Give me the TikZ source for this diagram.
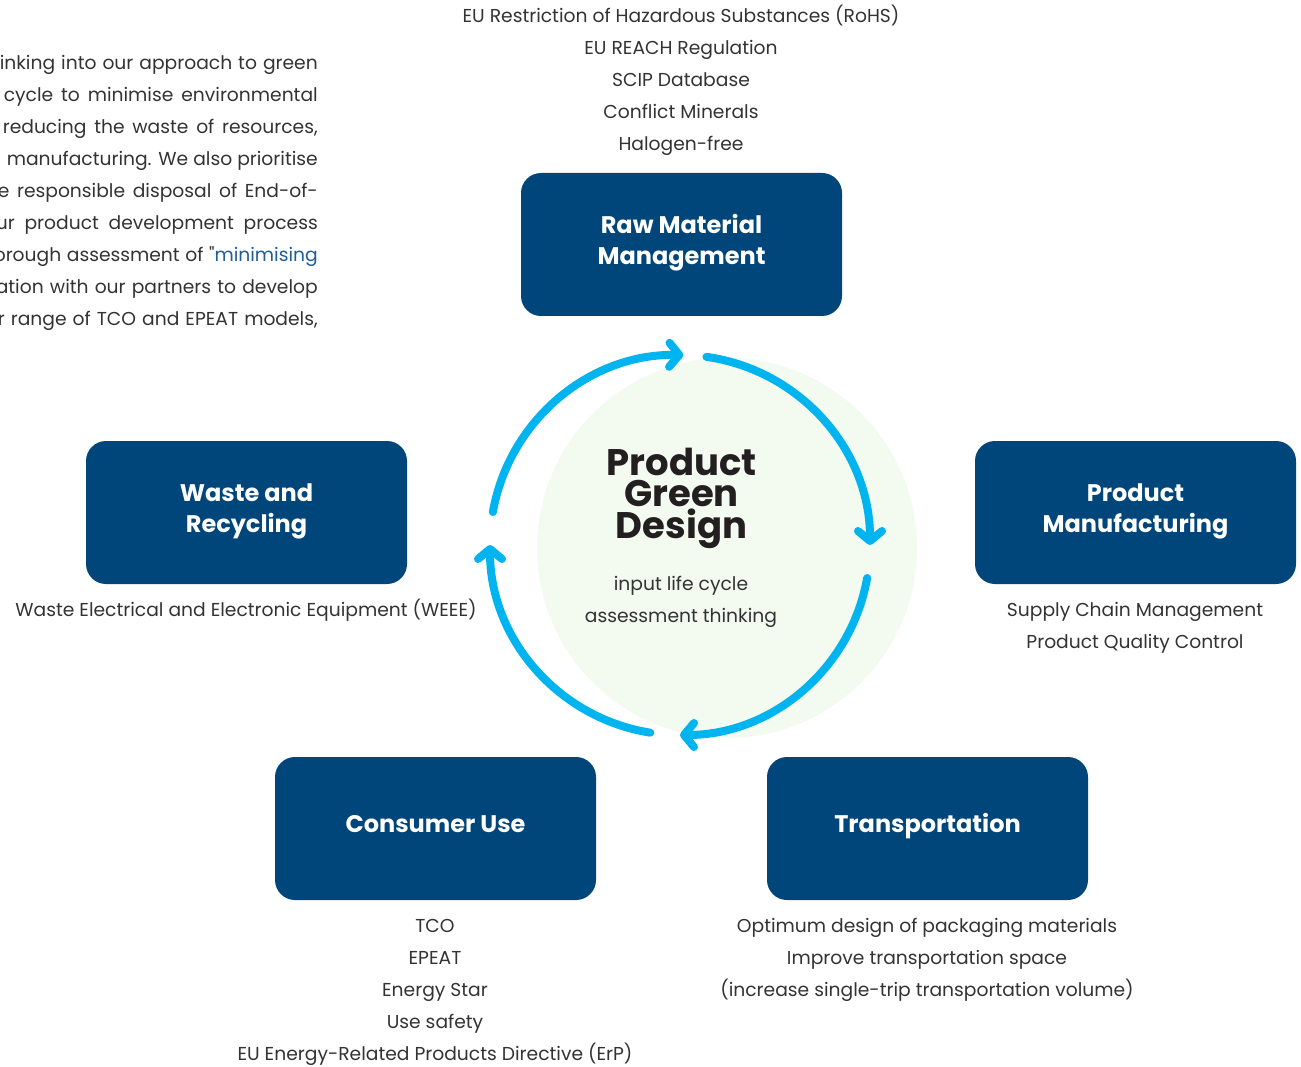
\documentclass[tikz,border=0pt]{standalone}
\usepackage{fontspec}
\setmainfont{Poppins}
\newfontfamily\plainpop{Poppins}
\usetikzlibrary{arrows.meta}
\definecolor{boxblue}{HTML}{00467A}
\definecolor{arrowblue}{HTML}{00B4F0}
\definecolor{pale}{HTML}{F3FAF0}
\definecolor{txt}{HTML}{333333}
\definecolor{ttl}{HTML}{231F20}
\definecolor{linkblue}{HTML}{1F5C99}
\newcommand{\lowstrut}{\rule[-13.3pt]{0pt}{13.3pt}}
\begin{document}
\begin{tikzpicture}[x=1pt,y=-1pt,
  stage/.style={fill=boxblue, rounded corners=20pt, minimum width=321pt, minimum height=143pt,
    inner sep=0pt, text=white, align=center, font=\fontsize{24}{31}\selectfont\bfseries},
  lbl/.style={inner sep=0pt, align=center, text=txt, font=\fontsize{18.7}{32}\selectfont},
  para/.style={inner sep=0pt, anchor=east, text=txt, font=\fontsize{18.7}{32}\selectfont},
  cycarrow/.style={draw=arrowblue, line width=8pt, line cap=round,
    -{Straight Barb[length=10pt,width=24pt,round]}}]
\useasboundingbox (0,0) rectangle (1301,1067);
\clip (0,0) rectangle (1301,1067);

% pale circle
\fill[pale] (727,548) circle[radius=190];

% left paragraph (cut off at the left edge)
\node[para] (p1) at (318,63)  {\strut\makebox[318pt][s]{inking into our approach to green}};
\node[para] (p2) at (318,95)  {\strut\makebox[314pt][s]{cycle to minimise environmental}};
\node[para] (p3) at (318,127) {\strut\makebox[315pt][s]{reducing the waste of resources,}};
\node[para] (p4) at (318,159) {\strut\makebox[311pt][s]{manufacturing. We also prioritise}};
\node[para] (p5) at (318,191) {\strut\makebox[320pt][s]{e responsible disposal of End-of-}};
\node[para] (p6) at (318,223) {\strut\makebox[322pt][s]{ur product development process}};
\node[para] (p7) at (318,255) {\strut\makebox[324pt][s]{orough assessment of {\plainpop"}\textcolor{linkblue}{minimising}}};
\node[para] (p8) at (318,287) {\strut\makebox[322pt][s]{ation with our partners to develop}};
\node[para] (p9) at (318,319) {\strut\makebox[320pt][s]{r range of TCO and EPEAT models,}};

% stages
\node[stage] (raw)   at (681.5,244.5)  {\strut Raw Material\\Management\lowstrut};
\node[stage] (waste) at (246.5,512.5)  {\strut Waste and\\Recycling\lowstrut};
\node[stage] (manu)  at (1135.5,512.5) {\strut Product\\Manufacturing\lowstrut};
\node[stage] (cons)  at (435.5,828.5)  {\strut Consumer Use\lowstrut};
\node[stage] (trans) at (927.5,828.5)  {\strut Transportation\lowstrut};

% labels
\node[lbl] (rawl) at (681,80.5) {\strut EU Restriction of Hazardous Substances (RoHS)\\EU REACH Regulation\\SCIP Database\\Conflict Minerals\\Halogen-free\strut};
\node[lbl] (wastel) at (246,610.5) {\strut Waste Electrical and Electronic Equipment (WEEE)\strut};
\node[lbl] (manul) at (1135,626.5) {\strut Supply Chain Management\\Product Quality Control\strut};
\node[lbl] (consl) at (435,990.5) {\strut TCO\\EPEAT\\Energy Star\\Use safety\\EU Energy-Related Products Directive (ErP)\strut};
\node[lbl] (transl) at (927,958.5) {\strut Optimum design of packaging materials\\Improve transportation space\\(increase single-trip transportation volume)\strut};

% centre
\node[inner sep=0pt, align=center, text=ttl, font=\fontsize{37}{31.5}\selectfont\bfseries] (title) at (681.5,497.5)
  {\rule{0pt}{30pt}Product\\Green\\Design\rule[-12pt]{0pt}{12pt}};
\node[lbl] (sub) at (681,600.5) {\strut input life cycle\\assessment thinking\strut};

% cycle arrows
\coordinate (ring) at (680,545);
\draw[cycarrow] ([shift={(-170:190)}]ring) arc[start angle=-170, end angle=-89, radius=190];
\draw[cycarrow] ([shift={(-82:190)}]ring)  arc[start angle=-82, end angle=0, radius=190];
\draw[cycarrow] ([shift={(10:190)}]ring)   arc[start angle=10, end angle=90, radius=190];
\draw[cycarrow] ([shift={(99:190)}]ring)   arc[start angle=99, end angle=180, radius=190];
\end{tikzpicture}
\end{document}
